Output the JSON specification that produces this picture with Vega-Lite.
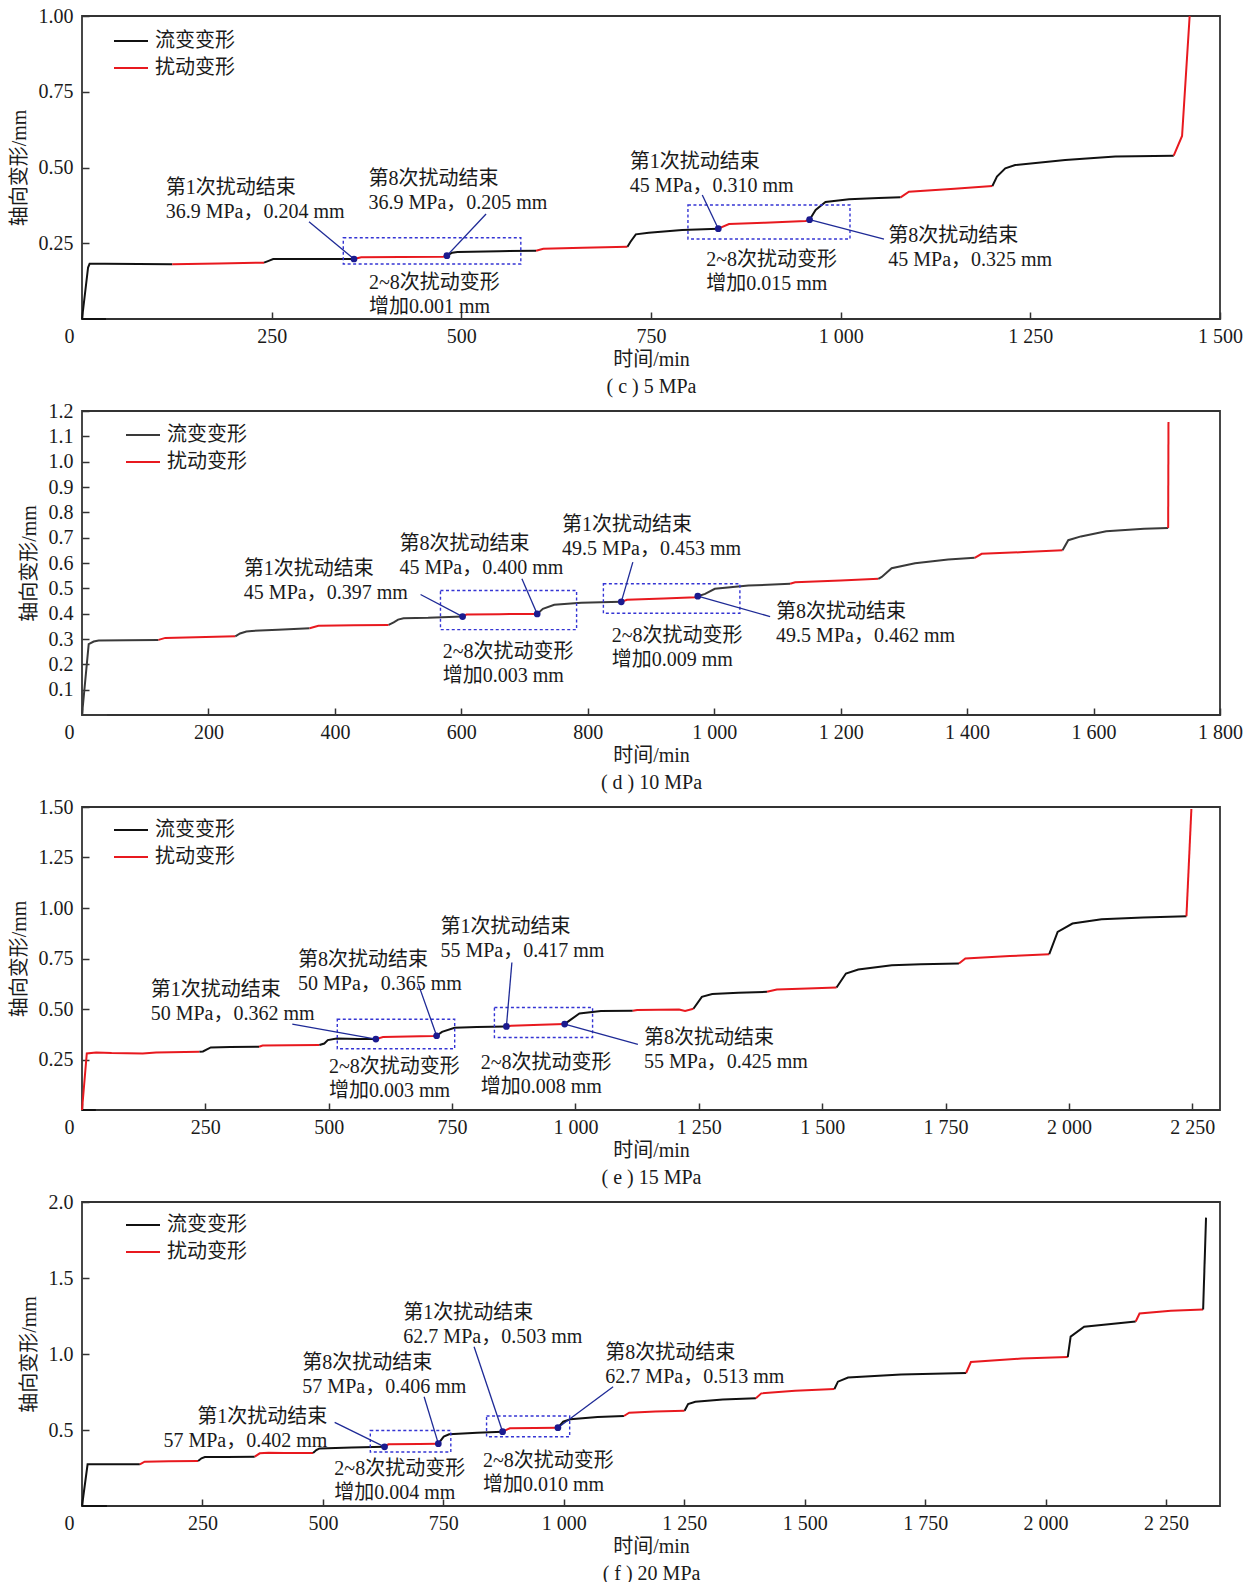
{
"$schema": "https://vega.github.io/schema/vega-lite/v6.json",
"background": "white",
"padding": {"left": 8, "top": 5, "right": 5, "bottom": 5},
"bounds": "flush",
"spacing": 92,
"resolve": {"scale": {"x": "independent", "y": "independent", "color": "independent"}, "legend": {"color": "independent"}},
"config": {
  "font": "Liberation Serif, Noto Sans CJK SC",
  "view": {"stroke": "#333333", "strokeWidth": 1.8},
  "axis": {"labelFont": "Liberation Serif, Noto Sans CJK SC", "labelFontSize": 20, "labelColor": "#1a1a1a", "titleFont": "Liberation Serif, Noto Sans CJK SC", "titleFontSize": 20, "titleFontWeight": "normal", "titleColor": "#1a1a1a", "domain": false, "grid": false, "tickColor": "#333333", "tickSize": -7, "tickWidth": 1.5, "labelPadding": 16, "labelFlush": false, "labelOverlap": false},
  "axisX": {"labelPadding": 14},
  "legend": {"labelFont": "Liberation Serif, Noto Sans CJK SC", "labelFontSize": 20, "labelColor": "#1a1a1a", "symbolType": "stroke", "symbolSize": 1156, "symbolStrokeWidth": 2, "labelOffset": 6, "clipHeight": 20, "rowPadding": 7, "padding": 0, "orient": "none", "title": null},
  "text": {"font": "Liberation Serif, Noto Sans CJK SC", "fontSize": 20, "color": "#1a1a1a", "align": "left", "baseline": "top", "lineBreak": "\n", "lineHeight": 24},
  "rule": {"color": "#1e2a96", "strokeWidth": 1.3},
  "point": {"color": "#1b1b8f", "filled": true, "size": 45, "opacity": 1},
  "rect": {"fillOpacity": 0, "stroke": "#3434d4", "strokeWidth": 1.4, "strokeDash": [3, 2.5]},
  "line": {"strokeWidth": 2}
},
"datasets": {
  "cL": [
    {"s":0,"k":"流变变形","t":0,"v":0},{"s":0,"k":"流变变形","t":31.6,"v":0},
    {"s":1,"k":"流变变形","t":0,"v":0},{"s":1,"k":"流变变形","t":8,"v":0.17},{"s":1,"k":"流变变形","t":10,"v":0.182},{"s":1,"k":"流变变形","t":30,"v":0.182},{"s":1,"k":"流变变形","t":119,"v":0.181},
    {"s":2,"k":"扰动变形","t":119,"v":0.181},{"s":2,"k":"扰动变形","t":180,"v":0.183},{"s":2,"k":"扰动变形","t":240,"v":0.186},
    {"s":3,"k":"流变变形","t":240,"v":0.186},{"s":3,"k":"流变变形","t":246,"v":0.192},{"s":3,"k":"流变变形","t":252,"v":0.198},{"s":3,"k":"流变变形","t":300,"v":0.198},{"s":3,"k":"流变变形","t":358.5,"v":0.198},
    {"s":4,"k":"扰动变形","t":358.5,"v":0.198},{"s":4,"k":"扰动变形","t":368,"v":0.2036},{"s":4,"k":"扰动变形","t":420,"v":0.205},{"s":4,"k":"扰动变形","t":476,"v":0.2057},{"s":4,"k":"扰动变形","t":481,"v":0.209},
    {"s":5,"k":"流变变形","t":481,"v":0.209},{"s":5,"k":"流变变形","t":488,"v":0.219},{"s":5,"k":"流变变形","t":495,"v":0.221},{"s":5,"k":"流变变形","t":550,"v":0.224},{"s":5,"k":"流变变形","t":598.5,"v":0.2255},
    {"s":6,"k":"扰动变形","t":598.5,"v":0.2255},{"s":6,"k":"扰动变形","t":608,"v":0.232},{"s":6,"k":"扰动变形","t":660,"v":0.235},{"s":6,"k":"扰动变形","t":719,"v":0.2386},
    {"s":7,"k":"流变变形","t":719,"v":0.2386},{"s":7,"k":"流变变形","t":723,"v":0.255},{"s":7,"k":"流变变形","t":730,"v":0.2795},{"s":7,"k":"流变变形","t":747,"v":0.285},{"s":7,"k":"流变变形","t":791,"v":0.2937},{"s":7,"k":"流变变形","t":838.7,"v":0.298},
    {"s":8,"k":"扰动变形","t":838.7,"v":0.298},{"s":8,"k":"扰动变形","t":852.8,"v":0.3135},{"s":8,"k":"扰动变形","t":900,"v":0.318},{"s":8,"k":"扰动变形","t":953.8,"v":0.3234},{"s":8,"k":"扰动变形","t":959,"v":0.3277},
    {"s":9,"k":"流变变形","t":959,"v":0.3277},{"s":9,"k":"流变变形","t":967,"v":0.36},{"s":9,"k":"流变变形","t":980,"v":0.386},{"s":9,"k":"流变变形","t":1011,"v":0.395},{"s":9,"k":"流变变形","t":1050,"v":0.399},{"s":9,"k":"流变变形","t":1079,"v":0.4016},
    {"s":10,"k":"扰动变形","t":1079,"v":0.4016},{"s":10,"k":"扰动变形","t":1090,"v":0.42},{"s":10,"k":"扰动变形","t":1150,"v":0.43},{"s":10,"k":"扰动变形","t":1200,"v":0.439},
    {"s":11,"k":"流变变形","t":1200,"v":0.439},{"s":11,"k":"流变变形","t":1206,"v":0.47},{"s":11,"k":"流变变形","t":1217,"v":0.497},{"s":11,"k":"流变变形","t":1230,"v":0.508},{"s":11,"k":"流变变形","t":1296,"v":0.525},{"s":11,"k":"流变变形","t":1362,"v":0.536},{"s":11,"k":"流变变形","t":1439,"v":0.539},
    {"s":12,"k":"扰动变形","t":1439,"v":0.539},{"s":12,"k":"扰动变形","t":1450,"v":0.604},{"s":12,"k":"扰动变形","t":1460,"v":1.0}
  ],
  "cB": [{"t1":344.4,"t2":578.4,"v1":0.1815,"v2":0.2683},{"t1":798.7,"t2":1012.3,"v1":0.264,"v2":0.3762}],
  "cR": [{"t1":299.2,"v1":0.3211,"t2":358.5,"v2":0.198},{"t1":532.6,"v1":0.3465,"t2":481,"v2":0.209},{"t1":817.6,"v1":0.4092,"t2":838.7,"v2":0.298},{"t1":959,"v1":0.3277,"t2":1057.1,"v2":0.264}],
  "cP": [{"t":358.5,"v":0.198},{"t":481,"v":0.209},{"t":838.7,"v":0.298},{"t":959,"v":0.3277}],
  "cT": [
    {"t":110.3,"v":0.4647,"label":"第1次扰动结束\n36.9 MPa，0.204 mm"},
    {"t":377.6,"v":0.495,"label":"第8次扰动结束\n36.9 MPa，0.205 mm"},
    {"t":378.3,"v":0.1518,"label":"2~8次扰动变形\n增加0.001 mm"},
    {"t":721.9,"v":0.5528,"label":"第1次扰动结束\n45 MPa，0.310 mm"},
    {"t":822.8,"v":0.2284,"label":"2~8次扰动变形\n增加0.015 mm"},
    {"t":1062.7,"v":0.3053,"label":"第8次扰动结束\n45 MPa，0.325 mm"}
  ],
  "dL": [
    {"s":0,"k":"流变变形","t":0,"v":0},{"s":0,"k":"流变变形","t":39.5,"v":0},
    {"s":1,"k":"流变变形","t":0,"v":0},{"s":1,"k":"流变变形","t":10.6,"v":0.28},{"s":1,"k":"流变变形","t":18.5,"v":0.29},{"s":1,"k":"流变变形","t":26.4,"v":0.2937},{"s":1,"k":"流变变形","t":70,"v":0.295},{"s":1,"k":"流变变形","t":121,"v":0.2964},
    {"s":2,"k":"扰动变形","t":121,"v":0.2964},{"s":2,"k":"扰动变形","t":131.8,"v":0.3043},{"s":2,"k":"扰动变形","t":180,"v":0.307},{"s":2,"k":"扰动变形","t":242.5,"v":0.3107},
    {"s":3,"k":"流变变形","t":242.5,"v":0.3107},{"s":3,"k":"流变变形","t":250,"v":0.322},{"s":3,"k":"流变变形","t":260,"v":0.3295},{"s":3,"k":"流变变形","t":268.8,"v":0.332},{"s":3,"k":"流变变形","t":310,"v":0.337},{"s":3,"k":"流变变形","t":360,"v":0.3423},
    {"s":4,"k":"扰动变形","t":360,"v":0.3423},{"s":4,"k":"扰动变形","t":374,"v":0.352},{"s":4,"k":"扰动变形","t":430,"v":0.354},{"s":4,"k":"扰动变形","t":485,"v":0.3557},
    {"s":5,"k":"流变变形","t":485,"v":0.3557},{"s":5,"k":"流变变形","t":493,"v":0.366},{"s":5,"k":"流变变形","t":500,"v":0.3767},{"s":5,"k":"流变变形","t":508.6,"v":0.382},{"s":5,"k":"流变变形","t":547.5,"v":0.3834},{"s":5,"k":"流变变形","t":602,"v":0.3885},
    {"s":6,"k":"扰动变形","t":602,"v":0.3885},{"s":6,"k":"扰动变形","t":608,"v":0.3964},{"s":6,"k":"扰动变形","t":660,"v":0.398},{"s":6,"k":"扰动变形","t":720,"v":0.399},
    {"s":7,"k":"流变变形","t":720,"v":0.399},{"s":7,"k":"流变变形","t":729,"v":0.419},{"s":7,"k":"流变变形","t":747,"v":0.4348},{"s":7,"k":"流变变形","t":789.6,"v":0.4427},{"s":7,"k":"流变变形","t":853,"v":0.4466},
    {"s":8,"k":"扰动变形","t":853,"v":0.4466},{"s":8,"k":"扰动变形","t":862,"v":0.4545},{"s":8,"k":"扰动变形","t":920,"v":0.46},{"s":8,"k":"扰动变形","t":971,"v":0.4648},{"s":8,"k":"扰动变形","t":974,"v":0.469},
    {"s":9,"k":"流变变形","t":974,"v":0.469},{"s":9,"k":"流变变形","t":985.6,"v":0.478},{"s":9,"k":"流变变形","t":1001,"v":0.498},{"s":9,"k":"流变变形","t":1054,"v":0.511},{"s":9,"k":"流变变形","t":1120,"v":0.518},
    {"s":10,"k":"扰动变形","t":1120,"v":0.518},{"s":10,"k":"扰动变形","t":1128,"v":0.524},{"s":10,"k":"扰动变形","t":1200,"v":0.531},{"s":10,"k":"扰动变形","t":1259.6,"v":0.5375},
    {"s":11,"k":"流变变形","t":1259.6,"v":0.5375},{"s":11,"k":"流变变形","t":1265,"v":0.545},{"s":11,"k":"流变变形","t":1280.6,"v":0.5794},{"s":11,"k":"流变变形","t":1317.6,"v":0.599},{"s":11,"k":"流变变形","t":1370,"v":0.614},{"s":11,"k":"流变变形","t":1412,"v":0.6206},
    {"s":12,"k":"扰动变形","t":1412,"v":0.6206},{"s":12,"k":"扰动变形","t":1423,"v":0.6364},{"s":12,"k":"扰动变形","t":1490,"v":0.643},{"s":12,"k":"扰动变形","t":1551,"v":0.65},
    {"s":13,"k":"流变变形","t":1551,"v":0.65},{"s":13,"k":"流变变形","t":1560,"v":0.69},{"s":13,"k":"流变变形","t":1580,"v":0.705},{"s":13,"k":"流变变形","t":1620,"v":0.725},{"s":13,"k":"流变变形","t":1680,"v":0.735},{"s":13,"k":"流变变形","t":1718,"v":0.738},
    {"s":14,"k":"扰动变形","t":1718,"v":0.738},{"s":14,"k":"扰动变形","t":1718.5,"v":1.157}
  ],
  "dB": [{"t1":567,"t2":782.3,"v1":0.3372,"v2":0.4913},{"t1":824.7,"t2":1040.6,"v1":0.4016,"v2":0.5178}],
  "dR": [{"t1":535.5,"v1":0.4755,"t2":602,"v2":0.3885},{"t1":695.8,"v1":0.5375,"t2":720,"v2":0.399},{"t1":871.3,"v1":0.6032,"t2":853,"v2":0.4466},{"t1":974,"v1":0.469,"t2":1088.4,"v2":0.3885}],
  "dP": [{"t":602,"v":0.3885},{"t":720,"v":0.399},{"t":853,"v":0.4466},{"t":974,"v":0.469}],
  "dT": [
    {"t":256,"v":0.6158,"label":"第1次扰动结束\n45 MPa，0.397 mm"},
    {"t":502.1,"v":0.7127,"label":"第8次扰动结束\n45 MPa，0.400 mm"},
    {"t":570.6,"v":0.2877,"label":"2~8次扰动变形\n增加0.003 mm"},
    {"t":759.4,"v":0.7897,"label":"第1次扰动结束\n49.5 MPa，0.453 mm"},
    {"t":838,"v":0.351,"label":"2~8次扰动变形\n增加0.009 mm"},
    {"t":1097.9,"v":0.4458,"label":"第8次扰动结束\n49.5 MPa，0.462 mm"}
  ],
  "eL": [
    {"s":0,"k":"流变变形","t":0,"v":0},{"s":0,"k":"流变变形","t":28,"v":0},
    {"s":1,"k":"扰动变形","t":0,"v":0},{"s":1,"k":"扰动变形","t":9.7,"v":0.28},{"s":1,"k":"扰动变形","t":28.7,"v":0.285},{"s":1,"k":"扰动变形","t":60,"v":0.282},{"s":1,"k":"扰动变形","t":123,"v":0.28},{"s":1,"k":"扰动变形","t":150,"v":0.285},{"s":1,"k":"扰动变形","t":238,"v":0.288},
    {"s":2,"k":"流变变形","t":238,"v":0.288},{"s":2,"k":"流变变形","t":245,"v":0.29},{"s":2,"k":"流变变形","t":261,"v":0.31},{"s":2,"k":"流变变形","t":300,"v":0.312},{"s":2,"k":"流变变形","t":358.7,"v":0.313},
    {"s":3,"k":"扰动变形","t":358.7,"v":0.313},{"s":3,"k":"扰动变形","t":366,"v":0.3195},{"s":3,"k":"扰动变形","t":420,"v":0.32},{"s":3,"k":"扰动变形","t":481,"v":0.3215},
    {"s":4,"k":"流变变形","t":481,"v":0.3215},{"s":4,"k":"流变变形","t":491,"v":0.329},{"s":4,"k":"流变变形","t":498,"v":0.346},{"s":4,"k":"流变变形","t":516,"v":0.354},{"s":4,"k":"流变变形","t":560,"v":0.351},{"s":4,"k":"流变变形","t":595.5,"v":0.351},
    {"s":5,"k":"扰动变形","t":595.5,"v":0.351},{"s":5,"k":"扰动变形","t":610,"v":0.361},{"s":5,"k":"扰动变形","t":660,"v":0.364},{"s":5,"k":"扰动变形","t":711.4,"v":0.366},{"s":5,"k":"扰动变形","t":718.6,"v":0.3675},
    {"s":6,"k":"流变变形","t":718.6,"v":0.3675},{"s":6,"k":"流变变形","t":729.5,"v":0.387},{"s":6,"k":"流变变形","t":755,"v":0.407},{"s":6,"k":"流变变形","t":800,"v":0.411},{"s":6,"k":"流变变形","t":860,"v":0.4135},
    {"s":7,"k":"扰动变形","t":860,"v":0.4135},{"s":7,"k":"扰动变形","t":869.6,"v":0.417},{"s":7,"k":"扰动变形","t":930,"v":0.422},{"s":7,"k":"扰动变形","t":978,"v":0.4253},
    {"s":8,"k":"流变变形","t":978,"v":0.4253},{"s":8,"k":"流变变形","t":989,"v":0.445},{"s":8,"k":"流变变形","t":1008,"v":0.478},{"s":8,"k":"流变变形","t":1051.5,"v":0.4896},{"s":8,"k":"流变变形","t":1116,"v":0.491},
    {"s":9,"k":"扰动变形","t":1116,"v":0.491},{"s":9,"k":"扰动变形","t":1125,"v":0.4945},{"s":9,"k":"扰动变形","t":1210,"v":0.4975},{"s":9,"k":"扰动变形","t":1222,"v":0.49},{"s":9,"k":"扰动变形","t":1239,"v":0.501},
    {"s":10,"k":"流变变形","t":1239,"v":0.501},{"s":10,"k":"流变变形","t":1256,"v":0.5603},{"s":10,"k":"流变变形","t":1277,"v":0.5737},{"s":10,"k":"流变变形","t":1330,"v":0.581},{"s":10,"k":"流变变形","t":1388,"v":0.585},
    {"s":11,"k":"扰动变形","t":1388,"v":0.585},{"s":11,"k":"扰动变形","t":1408,"v":0.5965},{"s":11,"k":"扰动变形","t":1470,"v":0.602},{"s":11,"k":"扰动变形","t":1529,"v":0.6064},
    {"s":12,"k":"流变变形","t":1529,"v":0.6064},{"s":12,"k":"流变变形","t":1548,"v":0.6756},{"s":12,"k":"流变变形","t":1573,"v":0.6954},{"s":12,"k":"流变变形","t":1641,"v":0.717},{"s":12,"k":"流变变形","t":1700,"v":0.722},{"s":12,"k":"流变变形","t":1777,"v":0.725},
    {"s":13,"k":"扰动变形","t":1777,"v":0.725},{"s":13,"k":"扰动变形","t":1790,"v":0.75},{"s":13,"k":"扰动变形","t":1880,"v":0.762},{"s":13,"k":"扰动变形","t":1960,"v":0.7715},
    {"s":14,"k":"流变变形","t":1960,"v":0.7715},{"s":14,"k":"流变变形","t":1977,"v":0.882},{"s":14,"k":"流变变形","t":2007,"v":0.923},{"s":14,"k":"流变变形","t":2066,"v":0.9446},{"s":14,"k":"流变变形","t":2150,"v":0.953},{"s":14,"k":"流变变形","t":2238,"v":0.9594},
    {"s":15,"k":"扰动变形","t":2238,"v":0.9594},{"s":15,"k":"扰动变形","t":2248,"v":1.49}
  ],
  "eB": [{"t1":517.3,"t2":755.2,"v1":0.3032,"v2":0.449},{"t1":835.7,"t2":1034.6,"v1":0.359,"v2":0.5074}],
  "eR": [{"t1":426.1,"v1":0.4253,"t2":595.5,"v2":0.351},{"t1":681.5,"v1":0.6231,"t2":718.6,"v2":0.3675},{"t1":871.1,"v1":0.73,"t2":860,"v2":0.4135},{"t1":978,"v1":0.4253,"t2":1126.4,"v2":0.3244}],
  "eP": [{"t":595.5,"v":0.351},{"t":718.6,"v":0.3675},{"t":860,"v":0.4135},{"t":978,"v":0.4253}],
  "eT": [
    {"t":139.2,"v":0.6434,"label":"第1次扰动结束\n50 MPa，0.362 mm"},
    {"t":437.7,"v":0.7918,"label":"第8次扰动结束\n50 MPa，0.365 mm"},
    {"t":500.5,"v":0.2646,"label":"2~8次扰动变形\n增加0.003 mm"},
    {"t":726.2,"v":0.957,"label":"第1次扰动结束\n55 MPa，0.417 mm"},
    {"t":808.1,"v":0.2809,"label":"2~8次扰动变形\n增加0.008 mm"},
    {"t":1138.8,"v":0.4046,"label":"第8次扰动结束\n55 MPa，0.425 mm"}
  ],
  "fL": [
    {"s":0,"k":"流变变形","t":0,"v":0},{"s":0,"k":"流变变形","t":51.7,"v":0},
    {"s":1,"k":"流变变形","t":0,"v":0},{"s":1,"k":"流变变形","t":11.6,"v":0.274},{"s":1,"k":"流变变形","t":60,"v":0.274},{"s":1,"k":"流变变形","t":120,"v":0.274},
    {"s":2,"k":"扰动变形","t":120,"v":0.274},{"s":2,"k":"扰动变形","t":130,"v":0.2915},{"s":2,"k":"扰动变形","t":180,"v":0.294},{"s":2,"k":"扰动变形","t":241,"v":0.296},
    {"s":3,"k":"流变变形","t":241,"v":0.296},{"s":3,"k":"流变变形","t":248,"v":0.314},{"s":3,"k":"流变变形","t":255,"v":0.322},{"s":3,"k":"流变变形","t":300,"v":0.323},{"s":3,"k":"流变变形","t":358.5,"v":0.3245},
    {"s":4,"k":"扰动变形","t":358.5,"v":0.3245},{"s":4,"k":"扰动变形","t":369,"v":0.3465},{"s":4,"k":"扰动变形","t":387,"v":0.351},{"s":4,"k":"扰动变形","t":420,"v":0.348},{"s":4,"k":"扰动变形","t":479.5,"v":0.349},
    {"s":5,"k":"流变变形","t":479.5,"v":0.349},{"s":5,"k":"流变变形","t":486.4,"v":0.368},{"s":5,"k":"流变变形","t":493,"v":0.379},{"s":5,"k":"流变变形","t":560,"v":0.385},{"s":5,"k":"流变变形","t":628,"v":0.389},
    {"s":6,"k":"扰动变形","t":628,"v":0.389},{"s":6,"k":"扰动变形","t":636,"v":0.4055},{"s":6,"k":"扰动变形","t":700,"v":0.408},{"s":6,"k":"扰动变形","t":739.6,"v":0.41},
    {"s":7,"k":"流变变形","t":739.6,"v":0.41},{"s":7,"k":"流变变形","t":750.8,"v":0.456},{"s":7,"k":"流变变形","t":762,"v":0.4715},{"s":7,"k":"流变变形","t":820,"v":0.482},{"s":7,"k":"流变变形","t":873,"v":0.489},
    {"s":8,"k":"扰动变形","t":873,"v":0.489},{"s":8,"k":"扰动变形","t":888,"v":0.511},{"s":8,"k":"扰动变形","t":940,"v":0.513},{"s":8,"k":"扰动变形","t":987.8,"v":0.515},
    {"s":9,"k":"流变变形","t":987.8,"v":0.515},{"s":9,"k":"流变变形","t":998.8,"v":0.5546},{"s":9,"k":"流变变形","t":1013.7,"v":0.57},{"s":9,"k":"流变变形","t":1070,"v":0.585},{"s":9,"k":"流变变形","t":1124.8,"v":0.592},
    {"s":10,"k":"扰动变形","t":1124.8,"v":0.592},{"s":10,"k":"扰动变形","t":1135.8,"v":0.614},{"s":10,"k":"扰动变形","t":1190,"v":0.621},{"s":10,"k":"扰动变形","t":1250.7,"v":0.627},
    {"s":11,"k":"流变变形","t":1250.7,"v":0.627},{"s":11,"k":"流变变形","t":1258,"v":0.671},{"s":11,"k":"流变变形","t":1273,"v":0.686},{"s":11,"k":"流变变形","t":1330,"v":0.7},{"s":11,"k":"流变变形","t":1398.7,"v":0.7085},
    {"s":12,"k":"扰动变形","t":1398.7,"v":0.7085},{"s":12,"k":"扰动变形","t":1410,"v":0.741},{"s":12,"k":"扰动变形","t":1480,"v":0.758},{"s":12,"k":"扰动变形","t":1561.7,"v":0.77},
    {"s":13,"k":"流变变形","t":1561.7,"v":0.77},{"s":13,"k":"流变变形","t":1569,"v":0.818},{"s":13,"k":"流变变形","t":1590,"v":0.845},{"s":13,"k":"流变变形","t":1700,"v":0.865},{"s":13,"k":"流变变形","t":1835,"v":0.875},
    {"s":14,"k":"扰动变形","t":1835,"v":0.875},{"s":14,"k":"扰动变形","t":1845,"v":0.947},{"s":14,"k":"扰动变形","t":1950,"v":0.97},{"s":14,"k":"扰动变形","t":2046,"v":0.98},
    {"s":15,"k":"流变变形","t":2046,"v":0.98},{"s":15,"k":"流变变形","t":2052,"v":1.114},{"s":15,"k":"流变变形","t":2080,"v":1.18},{"s":15,"k":"流变变形","t":2187,"v":1.214},
    {"s":16,"k":"扰动变形","t":2187,"v":1.214},{"s":16,"k":"扰动变形","t":2195,"v":1.266},{"s":16,"k":"扰动变形","t":2260,"v":1.285},{"s":16,"k":"扰动变形","t":2327,"v":1.293},
    {"s":17,"k":"流变变形","t":2327,"v":1.293},{"s":17,"k":"流变变形","t":2333,"v":1.897}
  ],
  "fB": [{"t1":598.4,"t2":765.5,"v1":0.3553,"v2":0.4967},{"t1":839.7,"t2":1012.2,"v1":0.4559,"v2":0.592}],
  "fR": [{"t1":524.4,"v1":0.5507,"t2":628,"v2":0.389},{"t1":710.1,"v1":0.7191,"t2":739.6,"v2":0.41},{"t1":813.8,"v1":1.048,"t2":873,"v2":0.489},{"t1":987.8,"v1":0.515,"t2":1102.4,"v2":0.7849}],
  "fP": [{"t":628,"v":0.389},{"t":739.6,"v":0.41},{"t":873,"v":0.489},{"t":987.8,"v":0.515}],
  "fT": [
    {"t":457.4,"v":1.0053,"label":"第8次扰动结束\n57 MPa，0.406 mm"},
    {"t":523.7,"v":0.3092,"label":"2~8次扰动变形\n增加0.004 mm"},
    {"t":667,"v":1.334,"label":"第1次扰动结束\n62.7 MPa，0.503 mm"},
    {"t":832.3,"v":0.3586,"label":"2~8次扰动变形\n增加0.010 mm"},
    {"t":1086.3,"v":1.071,"label":"第8次扰动结束\n62.7 MPa，0.513 mm"}
  ],
  "fT2": [
    {"t":509.2,"v":0.6546,"label":"第1次扰动结束\n57 MPa，0.402 mm"}
  ]
},
"vconcat": [
  {
    "width": 1138, "height": 303,
    "encoding": {
      "x": {"field": "t", "type": "quantitative", "scale": {"domain": [0, 1500], "nice": false, "zero": false},
        "axis": {"title": ["时间/min", "( c ) 5 MPa"], "titleLineHeight": 27, "titlePadding": 3, "values": [0, 250, 500, 750, 1000, 1250, 1500], "labelExpr": "replace(format(datum.value, ','), ',', ' ')", "labelOffset": {"condition": {"test": "datum.value === 0", "value": -13}, "value": 0}}},
      "y": {"field": "v", "type": "quantitative", "scale": {"domain": [0, 1.0], "nice": false, "zero": false},
        "axis": {"title": "轴向变形/mm", "titlePadding": 9, "values": [0.25, 0.5, 0.75, 1.0], "format": ".2f"}}
    },
    "layer": [
      {"data": {"name": "cL"}, "mark": {"type": "line"},
       "encoding": {"color": {"field": "k", "type": "nominal", "scale": {"domain": ["流变变形", "扰动变形"], "range": ["#111111", "#e8191f"]}, "legend": {"legendX": 31, "legendY": 15}}, "detail": {"field": "s"}}},
      {"data": {"name": "cB"}, "mark": {"type": "rect"}, "encoding": {"x": {"field": "t1", "type": "quantitative"}, "x2": {"field": "t2"}, "y": {"field": "v1", "type": "quantitative"}, "y2": {"field": "v2"}}},
      {"data": {"name": "cR"}, "mark": {"type": "rule"}, "encoding": {"x": {"field": "t1", "type": "quantitative"}, "x2": {"field": "t2"}, "y": {"field": "v1", "type": "quantitative"}, "y2": {"field": "v2"}}},
      {"data": {"name": "cP"}, "mark": {"type": "point"}},
      {"data": {"name": "cT"}, "mark": {"type": "text"}, "encoding": {"text": {"field": "label"}}}
    ]
  },
  {
    "width": 1138, "height": 304,
    "encoding": {
      "x": {"field": "t", "type": "quantitative", "scale": {"domain": [0, 1800], "nice": false, "zero": false},
        "axis": {"title": ["时间/min", "( d ) 10 MPa"], "titleLineHeight": 27, "titlePadding": 3, "values": [0, 200, 400, 600, 800, 1000, 1200, 1400, 1600, 1800], "labelExpr": "replace(format(datum.value, ','), ',', ' ')", "labelOffset": {"condition": {"test": "datum.value === 0", "value": -13}, "value": 0}}},
      "y": {"field": "v", "type": "quantitative", "scale": {"domain": [0, 1.2], "nice": false, "zero": false},
        "axis": {"title": "轴向变形/mm", "titlePadding": 9, "values": [0.1, 0.2, 0.3, 0.4, 0.5, 0.6, 0.7, 0.8, 0.9, 1.0, 1.1, 1.2], "format": ".1f"}}
    },
    "layer": [
      {"data": {"name": "dL"}, "mark": {"type": "line"},
       "encoding": {"color": {"field": "k", "type": "nominal", "scale": {"domain": ["流变变形", "扰动变形"], "range": ["#3a3a3a", "#e8191f"]}, "legend": {"legendX": 43, "legendY": 14}}, "detail": {"field": "s"}}},
      {"data": {"name": "dB"}, "mark": {"type": "rect"}, "encoding": {"x": {"field": "t1", "type": "quantitative"}, "x2": {"field": "t2"}, "y": {"field": "v1", "type": "quantitative"}, "y2": {"field": "v2"}}},
      {"data": {"name": "dR"}, "mark": {"type": "rule"}, "encoding": {"x": {"field": "t1", "type": "quantitative"}, "x2": {"field": "t2"}, "y": {"field": "v1", "type": "quantitative"}, "y2": {"field": "v2"}}},
      {"data": {"name": "dP"}, "mark": {"type": "point"}},
      {"data": {"name": "dT"}, "mark": {"type": "text"}, "encoding": {"text": {"field": "label"}}}
    ]
  },
  {
    "width": 1138, "height": 303,
    "encoding": {
      "x": {"field": "t", "type": "quantitative", "scale": {"domain": [0, 2306], "nice": false, "zero": false},
        "axis": {"title": ["时间/min", "( e ) 15 MPa"], "titleLineHeight": 27, "titlePadding": 3, "values": [0, 250, 500, 750, 1000, 1250, 1500, 1750, 2000, 2250], "labelExpr": "replace(format(datum.value, ','), ',', ' ')", "labelOffset": {"condition": {"test": "datum.value === 0", "value": -13}, "value": 0}}},
      "y": {"field": "v", "type": "quantitative", "scale": {"domain": [0, 1.5], "nice": false, "zero": false},
        "axis": {"title": "轴向变形/mm", "titlePadding": 9, "values": [0.25, 0.5, 0.75, 1.0, 1.25, 1.5], "format": ".2f"}}
    },
    "layer": [
      {"data": {"name": "eL"}, "mark": {"type": "line"},
       "encoding": {"color": {"field": "k", "type": "nominal", "scale": {"domain": ["流变变形", "扰动变形"], "range": ["#111111", "#e8191f"]}, "legend": {"legendX": 31, "legendY": 13}}, "detail": {"field": "s"}}},
      {"data": {"name": "eB"}, "mark": {"type": "rect"}, "encoding": {"x": {"field": "t1", "type": "quantitative"}, "x2": {"field": "t2"}, "y": {"field": "v1", "type": "quantitative"}, "y2": {"field": "v2"}}},
      {"data": {"name": "eR"}, "mark": {"type": "rule"}, "encoding": {"x": {"field": "t1", "type": "quantitative"}, "x2": {"field": "t2"}, "y": {"field": "v1", "type": "quantitative"}, "y2": {"field": "v2"}}},
      {"data": {"name": "eP"}, "mark": {"type": "point"}},
      {"data": {"name": "eT"}, "mark": {"type": "text"}, "encoding": {"text": {"field": "label"}}}
    ]
  },
  {
    "width": 1138, "height": 304,
    "encoding": {
      "x": {"field": "t", "type": "quantitative", "scale": {"domain": [0, 2362], "nice": false, "zero": false},
        "axis": {"title": ["时间/min", "( f ) 20 MPa"], "titleLineHeight": 27, "titlePadding": 3, "values": [0, 250, 500, 750, 1000, 1250, 1500, 1750, 2000, 2250], "labelExpr": "replace(format(datum.value, ','), ',', ' ')", "labelOffset": {"condition": {"test": "datum.value === 0", "value": -13}, "value": 0}}},
      "y": {"field": "v", "type": "quantitative", "scale": {"domain": [0, 2.0], "nice": false, "zero": false},
        "axis": {"title": "轴向变形/mm", "titlePadding": 9, "values": [0.5, 1.0, 1.5, 2.0], "format": ".1f"}}
    },
    "layer": [
      {"data": {"name": "fL"}, "mark": {"type": "line"},
       "encoding": {"color": {"field": "k", "type": "nominal", "scale": {"domain": ["流变变形", "扰动变形"], "range": ["#111111", "#e8191f"]}, "legend": {"legendX": 43, "legendY": 13}}, "detail": {"field": "s"}}},
      {"data": {"name": "fB"}, "mark": {"type": "rect"}, "encoding": {"x": {"field": "t1", "type": "quantitative"}, "x2": {"field": "t2"}, "y": {"field": "v1", "type": "quantitative"}, "y2": {"field": "v2"}}},
      {"data": {"name": "fR"}, "mark": {"type": "rule"}, "encoding": {"x": {"field": "t1", "type": "quantitative"}, "x2": {"field": "t2"}, "y": {"field": "v1", "type": "quantitative"}, "y2": {"field": "v2"}}},
      {"data": {"name": "fP"}, "mark": {"type": "point"}},
      {"data": {"name": "fT"}, "mark": {"type": "text"}, "encoding": {"text": {"field": "label"}}},
      {"data": {"name": "fT2"}, "mark": {"type": "text", "align": "right"}, "encoding": {"text": {"field": "label"}}}
    ]
  }
]
}
